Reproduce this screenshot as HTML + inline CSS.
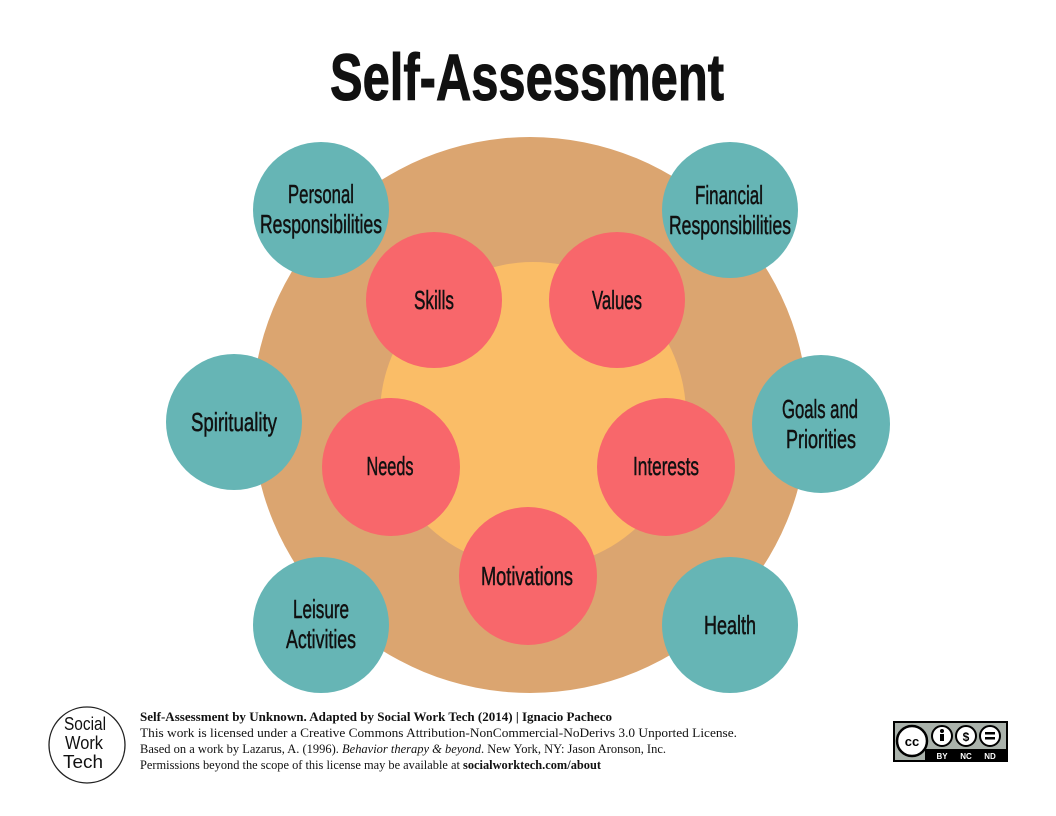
<!DOCTYPE html>
<html><head><meta charset="utf-8"><style>
html,body{margin:0;padding:0;background:#fff;}
svg{display:block}
</style></head><body>
<svg width="1056" height="816" viewBox="0 0 1056 816" xmlns="http://www.w3.org/2000/svg">
<rect width="1056" height="816" fill="#fff"/>
<text x="527" y="100" font-family="Liberation Sans, sans-serif" font-weight="bold" font-size="66" text-anchor="middle" textLength="394" lengthAdjust="spacingAndGlyphs" fill="#111" stroke="#111" stroke-width="1">Self-Assessment</text>
<circle cx="530" cy="415" r="278" fill="#DBA570"/>
<circle cx="533" cy="415" r="153" fill="#FABD67"/>
<g fill="#F8676B">
<circle cx="434" cy="300" r="68"/>
<circle cx="617" cy="300" r="68"/>
<circle cx="391" cy="467" r="69"/>
<circle cx="666" cy="467" r="69"/>
<circle cx="528" cy="576" r="69"/>
</g>
<g fill="#66B5B5">
<circle cx="321" cy="210" r="68"/>
<circle cx="730" cy="210" r="68"/>
<circle cx="234" cy="422" r="68"/>
<circle cx="821" cy="424" r="69"/>
<circle cx="321" cy="625" r="68"/>
<circle cx="730" cy="625" r="68"/>
</g>
<g font-family="Liberation Sans, sans-serif" font-size="26" fill="#111" stroke="#111" stroke-width="0.5" text-anchor="middle">
<text x="321" y="203" textLength="66" lengthAdjust="spacingAndGlyphs">Personal</text>
<text x="321" y="233" textLength="122" lengthAdjust="spacingAndGlyphs">Responsibilities</text>
<text x="729" y="204" textLength="68" lengthAdjust="spacingAndGlyphs">Financial</text>
<text x="730" y="234" textLength="122" lengthAdjust="spacingAndGlyphs">Responsibilities</text>
<text x="234" y="431" textLength="86" lengthAdjust="spacingAndGlyphs">Spirituality</text>
<text x="820" y="418" textLength="76" lengthAdjust="spacingAndGlyphs">Goals and</text>
<text x="821" y="448" textLength="70" lengthAdjust="spacingAndGlyphs">Priorities</text>
<text x="321" y="618" textLength="56" lengthAdjust="spacingAndGlyphs">Leisure</text>
<text x="321" y="648" textLength="70" lengthAdjust="spacingAndGlyphs">Activities</text>
<text x="730" y="634" textLength="52" lengthAdjust="spacingAndGlyphs">Health</text>
<text x="434" y="309" textLength="40" lengthAdjust="spacingAndGlyphs">Skills</text>
<text x="617" y="309" textLength="50" lengthAdjust="spacingAndGlyphs">Values</text>
<text x="390" y="475" textLength="47" lengthAdjust="spacingAndGlyphs">Needs</text>
<text x="666" y="475" textLength="66" lengthAdjust="spacingAndGlyphs">Interests</text>
<text x="527" y="585" textLength="92" lengthAdjust="spacingAndGlyphs">Motivations</text>
</g>
<circle cx="87" cy="745" r="38" fill="#fff" stroke="#222" stroke-width="1.3"/>
<g font-family="Liberation Sans, sans-serif" font-size="18" fill="#111" text-anchor="middle">
<text x="85" y="730" textLength="42" lengthAdjust="spacingAndGlyphs">Social</text>
<text x="84" y="749" textLength="38" lengthAdjust="spacingAndGlyphs">Work</text>
<text x="83" y="768" textLength="40" lengthAdjust="spacingAndGlyphs">Tech</text>
</g>
<g font-family="Liberation Serif, serif" font-size="12.5" fill="#111">
<text x="140" y="721" font-weight="bold" textLength="472" lengthAdjust="spacingAndGlyphs">Self-Assessment by Unknown. Adapted by Social Work Tech (2014) | Ignacio Pacheco</text>
<text x="140" y="737" textLength="597" lengthAdjust="spacingAndGlyphs">This work is licensed under a Creative Commons Attribution-NonCommercial-NoDerivs 3.0 Unported License.</text>
<text x="140" y="753" textLength="526" lengthAdjust="spacingAndGlyphs">Based on a work by Lazarus, A. (1996). <tspan font-style="italic">Behavior therapy &amp; beyond</tspan>. New York, NY: Jason Aronson, Inc.</text>
<text x="140" y="769" textLength="461" lengthAdjust="spacingAndGlyphs">Permissions beyond the scope of this license may be available at <tspan font-weight="bold">socialworktech.com/about</tspan></text>
</g>
<rect x="893" y="721" width="115" height="41" fill="#000"/>
<rect x="895" y="723" width="111" height="26" fill="#aab2ab"/>
<rect x="895" y="749" width="30" height="11" fill="#aab2ab"/>
<circle cx="912" cy="741" r="15" fill="#fff" stroke="#000" stroke-width="2.5"/>
<text x="912" y="746" font-family="Liberation Sans, sans-serif" font-weight="bold" font-size="13" text-anchor="middle" fill="#000">cc</text>
<circle cx="942" cy="736" r="10" fill="#fff" stroke="#000" stroke-width="2"/>
<circle cx="942" cy="731" r="2" fill="#000"/><rect x="940" y="734" width="4" height="7" fill="#000"/>
<circle cx="966" cy="736" r="10" fill="#fff" stroke="#000" stroke-width="2"/>
<text x="966" y="741" font-family="Liberation Sans, sans-serif" font-weight="bold" font-size="12" text-anchor="middle" fill="#000">$</text>
<circle cx="990" cy="736" r="10" fill="#fff" stroke="#000" stroke-width="2"/>
<rect x="985" y="732" width="10" height="2.5" fill="#000"/><rect x="985" y="737" width="10" height="2.5" fill="#000"/>
<g font-family="Liberation Sans, sans-serif" font-weight="bold" font-size="8" fill="#fff" text-anchor="middle">
<text x="942" y="759">BY</text><text x="966" y="759">NC</text><text x="990" y="759">ND</text>
</g>
</svg>
</body></html>
